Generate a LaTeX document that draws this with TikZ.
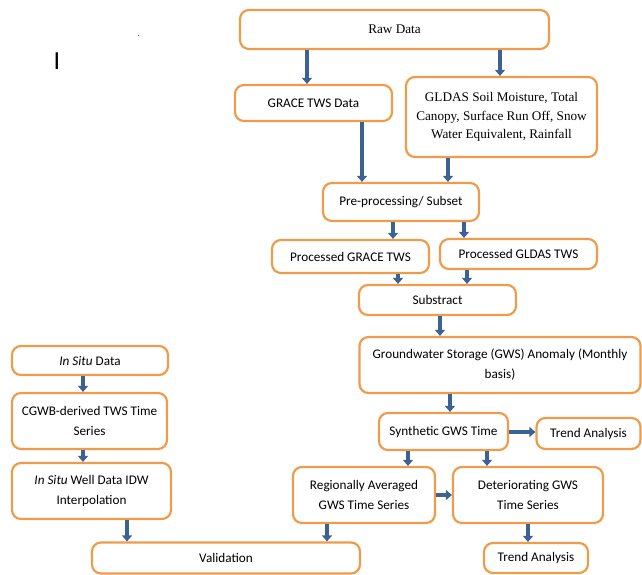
\documentclass[tikz,border=0pt]{standalone}
\usepackage{fontspec}
\setmainfont{Carlito}
\newfontfamily\timesfont{Liberation Serif}
\usetikzlibrary{arrows.meta}
\definecolor{boxorange}{RGB}{238,156,76}
\definecolor{arrowblue}{RGB}{60,98,146}
\tikzset{
  stepbox/.style={draw=boxorange, line width=2.2pt, rounded corners=9pt, align=center, inner sep=2pt, font=\fontsize{13.2}{20}\selectfont},
  serifbox/.style={stepbox, font=\timesfont\fontsize{13.2}{18.5}\selectfont},
  flow/.style={draw=arrowblue, line width=4pt, -{Triangle[width=10pt,length=6pt]}},
}
\begin{document}
\begin{tikzpicture}[x=1pt, y=-1pt]
    \useasboundingbox (0,0) rectangle (642,574);

    % stray marks
    \node[font=\fontsize{26}{26}\selectfont, inner sep=0pt] (mark) at (57,61) {I};
    \node[font=\fontsize{8}{8}\selectfont, inner sep=0pt] (dot) at (139,36) {.};

    % satellite branch
    \node[serifbox, minimum width=309pt, minimum height=39pt] (raw) at (394.5,29.5) {Raw Data};
    \node[stepbox, minimum width=157pt, minimum height=36pt] (grace) at (313.5,103) {GRACE TWS Data};
    \node[serifbox, minimum width=191pt, minimum height=80pt] (gldas) at (501.5,117) {GLDAS Soil Moisture, Total\\Canopy, Surface Run Off, Snow\\Water Equivalent, Rainfall};
    \node[stepbox, minimum width=156pt, minimum height=38pt] (pre) at (401,202) {Pre-processing/ Subset};
    \node[stepbox, minimum width=157pt, minimum height=33pt] (pgrace) at (350.5,256.5) {Processed GRACE TWS};
    \node[stepbox, minimum width=157pt, minimum height=30pt] (pgldas) at (518.5,254) {Processed GLDAS TWS};
    \node[stepbox, minimum width=157pt, minimum height=30pt] (sub) at (437.5,300) {Substract};
    \node[stepbox, minimum width=281pt, minimum height=56pt] (gws) at (500,365) {Groundwater Storage (GWS) Anomaly (Monthly\\basis)};
    \node[stepbox, minimum width=129pt, minimum height=37pt] (syn) at (443.5,431.5) {Synthetic GWS Time};
    \node[stepbox, minimum width=104pt, minimum height=31pt] (trendA) at (588.5,433.5) {Trend Analysis};
    \node[stepbox, minimum width=142pt, minimum height=56pt] (reg) at (364,495) {Regionally Averaged\\GWS Time Series};
    \node[stepbox, minimum width=150pt, minimum height=56pt] (det) at (528,495) {Deteriorating GWS\\Time Series};
    \node[stepbox, minimum width=104pt, minimum height=30pt] (trendB) at (536,558) {Trend Analysis};

    % in situ branch
    \node[stepbox, minimum width=156pt, minimum height=29pt] (insitu) at (90,360.5) {\textit{In Situ} Data};
    \node[stepbox, minimum width=155pt, minimum height=56pt] (cgwb) at (89.5,421) {CGWB-derived TWS Time\\Series};
    \node[stepbox, minimum width=159pt, minimum height=56pt] (idw) at (91.5,491) {\textit{In Situ} Well Data IDW\\Interpolation};
    \node[stepbox, minimum width=268pt, minimum height=31pt] (val) at (226,558) {Validation};

    \draw[flow] (raw.south -| 307,0) -- (grace.north -| 307,0);
    \draw[flow] (raw.south -| 500,0) -- (gldas.north -| 500,0);
    \draw[flow] (grace.south -| 362,0) -- (pre.north -| 362,0);
    \draw[flow] (gldas.south -| 448,0) -- (pre.north -| 448,0);
    \draw[flow] (pre.south -| 393,0) -- (pgrace.north -| 393,0);
    \draw[flow] (pre.south -| 464,0) -- (pgldas.north -| 464,0);
    \draw[flow] (pgrace.south -| 398,0) -- (sub.north -| 398,0);
    \draw[flow] (pgldas.south -| 467,0) -- (sub.north -| 467,0);
    \draw[flow] (sub.south -| 440,0) -- (gws.north -| 440,0);
    \draw[flow] (gws.south -| 450,0) -- (syn.north -| 450,0);
    \draw[flow] (syn.east |- 0,432) -- (trendA.west |- 0,432);
    \draw[flow] (syn.south -| 408,0) -- (reg.north -| 408,0);
    \draw[flow] (syn.south -| 487,0) -- (det.north -| 487,0);
    \draw[flow] (reg) -- (det);
    \draw[flow] (det.south -| 528,0) -- (trendB.north -| 528,0);
    \draw[flow] (reg.south -| 327,0) -- (val.north -| 327,0);

    \draw[flow] (insitu.south -| 83,0) -- (cgwb.north -| 83,0);
    \draw[flow] (cgwb.south -| 83,0) -- (idw.north -| 83,0);
    \draw[flow] (idw.south -| 127,0) -- (val.north -| 127,0);
\end{tikzpicture}
\end{document}
